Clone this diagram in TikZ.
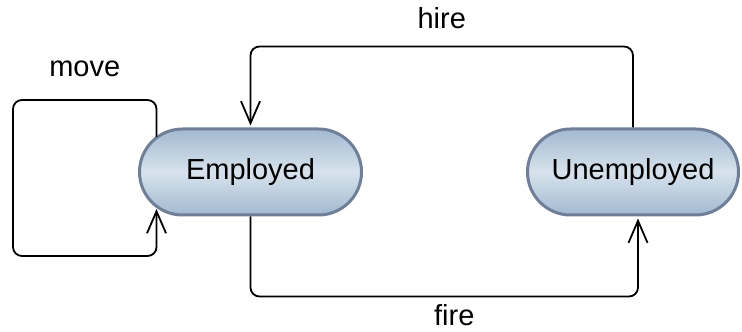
\documentclass[tikz,border=0pt]{standalone}
\usepackage{fontspec}
\setmainfont{Liberation Sans}
\usetikzlibrary{arrows.meta,shapes.misc,positioning}

\definecolor{stateedge}{HTML}{6F7F98}
\definecolor{statedark}{HTML}{A2B9D1}
\definecolor{statelight}{HTML}{D7E2EC}

\begin{document}
\begin{tikzpicture}[x=1pt,y=1pt,>={Straight Barb[length=22pt,width=19pt]},on grid,line width=1.8pt,
  font=\fontsize{29}{33}\selectfont,
  status/.style={rounded rectangle,draw=stateedge,line width=3pt,top color=statedark,
    bottom color=statedark,middle color=statelight,minimum width=222pt,minimum height=86pt,inner sep=0pt},
  trans/.style={->,rounded corners=9pt,shorten >=2pt},
  lbl/.style={anchor=base,inner sep=0pt}]
  \useasboundingbox (0,0) rectangle (742,332);

  \node[status] (employed) at (250.5,160) {Employed};
  \node[status,minimum width=211pt] (unemployed) [right=382.5pt of employed] {Unemployed};

  \coordinate (movetop) at (13,232);
  \coordinate (movebot) at (13,76);

  \draw[trans] ([shift={(18.5pt,35pt)}]employed.west) |- (movetop)
        node[lbl,pos=0.75,yshift=23pt] {move}
     -- (movebot) -| ([shift={(18.5pt,-35pt)}]employed.west);
  \draw[trans] (unemployed.north) -- ++(0,81) -|
        node[lbl,pos=0.25,yshift=18pt] {hire} (employed.north);
  \draw[trans] (employed.south) -- ++(0,-80) -|
        node[lbl,pos=0.25,yshift=-29pt,xshift=10pt] {fire} ([xshift=5pt]unemployed.south);
\end{tikzpicture}
\end{document}
